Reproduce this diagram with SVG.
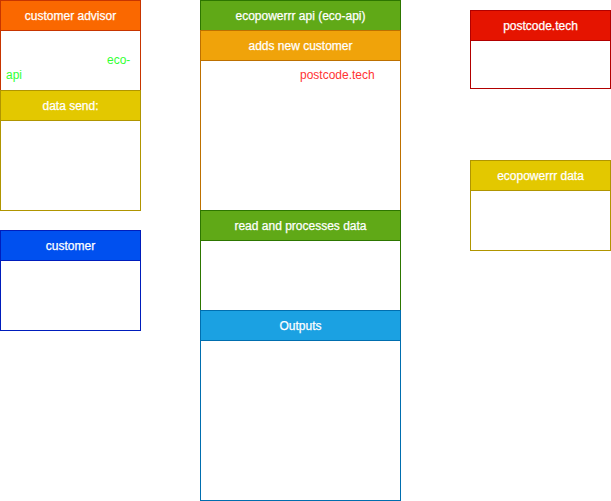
<svg xmlns="http://www.w3.org/2000/svg" width="611" height="501" viewBox="0 0 611 501">
<style>
text{font-family:"Liberation Sans",Arial,sans-serif;font-size:12px}
.h{fill:#fff;text-anchor:middle;stroke:#fff;stroke-width:0.25}
.b{fill:#fff}
</style>
<rect width="611" height="501" fill="#fff"/>
<g id="customer-advisor">
<rect class="b" x="0.5" y="0.5" width="140" height="90" stroke="#C73500"/>
<rect x="0.5" y="0.5" width="140" height="30" fill="#FA6800" stroke="#C73500"/>
<text class="h" x="70.5" y="19.5">customer advisor</text>
<text x="107" y="64" fill="#33FF33">eco-</text>
<text x="6" y="79" fill="#33FF33">api</text>
</g>
<g id="data-send">
<rect class="b" x="0.5" y="90.5" width="140" height="120" stroke="#B09500"/>
<rect x="0.5" y="90.5" width="140" height="30" fill="#E3C800" stroke="#B09500"/>
<text class="h" x="70.5" y="109.5">data send:</text>
</g>
<g id="customer">
<rect class="b" x="0.5" y="230.5" width="140" height="100" stroke="#001DBC"/>
<rect x="0.5" y="230.5" width="140" height="30" fill="#0050EF" stroke="#001DBC"/>
<text class="h" x="70.5" y="249.5">customer</text>
</g>
<g id="eco-api">
<rect x="200.5" y="0.5" width="200" height="30" fill="#60A917" stroke="#2D7600"/>
<text class="h" x="300.5" y="19.5">ecopowerrr api (eco-api)</text>
</g>
<g id="adds-new-customer">
<rect class="b" x="200.5" y="30.5" width="200" height="180" stroke="#BD7000"/>
<rect x="200.5" y="30.5" width="200" height="30" fill="#F0A30A" stroke="#BD7000"/>
<text class="h" x="300.5" y="49.5">adds new customer</text>
<text x="300" y="79" fill="#FF3333">postcode.tech</text>
</g>
<g id="read-processes">
<rect class="b" x="200.5" y="210.5" width="200" height="100" stroke="#2D7600"/>
<rect x="200.5" y="210.5" width="200" height="30" fill="#60A917" stroke="#2D7600"/>
<text class="h" x="300.5" y="229.5">read and processes data</text>
</g>
<g id="outputs">
<rect class="b" x="200.5" y="310.5" width="200" height="190" stroke="#006EAF"/>
<rect x="200.5" y="310.5" width="200" height="30" fill="#1BA1E2" stroke="#006EAF"/>
<text class="h" x="300.5" y="329.5">Outputs</text>
</g>
<g id="postcode-tech">
<rect class="b" x="470.5" y="10.5" width="140" height="78" stroke="#B20000"/>
<rect x="470.5" y="10.5" width="140" height="30" fill="#E51400" stroke="#B20000"/>
<text class="h" x="540.5" y="29.5">postcode.tech</text>
</g>
<g id="ecopowerrr-data">
<rect class="b" x="470.5" y="160.5" width="140" height="90" stroke="#B09500"/>
<rect x="470.5" y="160.5" width="140" height="30" fill="#E3C800" stroke="#B09500"/>
<text class="h" x="540.5" y="179.5">ecopowerrr data</text>
</g>
<g id="connectors"></g>
</svg>
